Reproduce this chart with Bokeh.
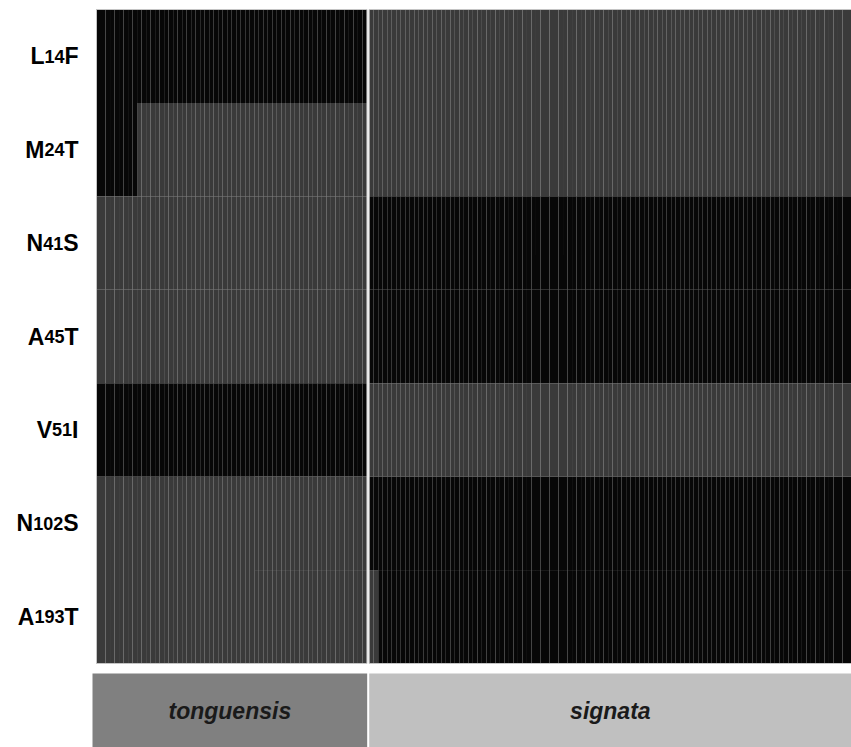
from bokeh.plotting import figure
from bokeh.models import Range1d, ColumnDataSource
from bokeh.core.properties import value
from bokeh.embed import file_html
from bokeh.resources import INLINE

# ---------------- data ----------------
mut_from = ["L", "M", "N", "A", "V", "N", "A"]
mut_pos = ["14", "24", "41", "45", "51", "102", "193"]
mut_to = ["F", "T", "S", "T", "I", "S", "T"]

groups = ["tonguensis", "signata"]
group_sizes = [60, 107]

# run-length encoded states per mutation: (state, number of samples); 1 = derived (black), 0 = ancestral (grey)
tonguensis_runs = [
    [(1, 60)],
    [(1, 9), (0, 51)],
    [(0, 60)],
    [(0, 60)],
    [(1, 60)],
    [(0, 60)],
    [(0, 60)],
]
signata_runs = [
    [(0, 107)],
    [(0, 107)],
    [(1, 107)],
    [(1, 107)],
    [(0, 107)],
    [(1, 107)],
    [(0, 2), (1, 105)],
]

state_colors = {1: "#070707", 0: "#3a3a3a"}
group_colors = ["#808080", "#c0c0c0"]

# ---------------- layout ----------------
W, H = 851, 747
left_px = 96           # heatmap left edge inside the figure
top_px = 9
gap = 0.5              # gap between groups, in column units
n_rows = len(mut_from)
total_units = group_sizes[0] + gap + group_sizes[1]
sx = (W - left_px) / total_units
rh = 654 / n_rows

x_start = -left_px / sx
x_end = x_start + W / sx
y_top = -top_px / rh
y_bottom = (H - top_px) / rh

p = figure(width=W, height=H, x_range=Range1d(x_start, x_end),
           y_range=Range1d(y_bottom, y_top), output_backend="svg",
           toolbar_location=None, x_axis_type=None, y_axis_type=None,
           min_border=0)
p.min_border_left = p.min_border_right = p.min_border_top = p.min_border_bottom = 0
p.outline_line_color = None
p.background_fill_color = "white"
p.border_fill_color = "white"

# cells
offsets = [0.0, group_sizes[0] + gap]
cells = dict(left=[], right=[], top=[], bottom=[], color=[])
for g, runs_all in enumerate([tonguensis_runs, signata_runs]):
    for r, runs in enumerate(runs_all):
        i = 0
        for state, count in runs:
            for _ in range(count):
                cells["left"].append(offsets[g] + i)
                cells["right"].append(offsets[g] + i + 1)
                cells["top"].append(r)
                cells["bottom"].append(r + 1)
                cells["color"].append(state_colors[state])
                i += 1
p.quad(left="left", right="right", top="top", bottom="bottom",
       fill_color="color", line_color="white", line_alpha=0.008, line_width=1,
       source=ColumnDataSource(cells))

# group outlines
p.quad(left=offsets, right=[offsets[g] + group_sizes[g] for g in range(2)],
       top=[0, 0], bottom=[n_rows, n_rows], fill_color=None,
       line_color="#c4c4c4", line_width=1)

# group band at the bottom
band_top = (673 - top_px) / rh
band_left = [x_start + 92 / sx, offsets[1]]
band_right = [group_sizes[0] + gap * 0.1, x_end]
p.quad(left=band_left, right=band_right, top=[band_top] * 2,
       bottom=[y_bottom] * 2, fill_color=group_colors, line_color=None)
p.text(x=[(band_left[g] + band_right[g]) / 2 for g in range(2)],
       y=[(band_top + y_bottom) / 2] * 2, text=groups,
       text_align="center", text_baseline="middle",
       text_font=value("Liberation Sans"), text_font_style="bold italic",
       text_font_size="23px", text_color="#1a1a1a")

# row labels (letter + smaller position number + letter)
adv = {"A": 722, "F": 611, "I": 278, "L": 611, "M": 833, "N": 722, "S": 667,
       "T": 611, "V": 667}
fs_big, fs_small = 23, 18
right_edge = -18
ys = [r + 0.5 for r in range(n_rows)]
off_to, off_pos, off_from = [], [], []
for r in range(n_rows):
    w_to = adv[mut_to[r]] / 1000 * fs_big
    w_pos = 556 / 1000 * fs_small * len(mut_pos[r])
    off_to.append(right_edge)
    off_pos.append(right_edge - w_to)
    off_from.append(right_edge - w_to - w_pos)
common = dict(text_align="right", text_baseline="alphabetic",
              text_font=value("Liberation Sans"), text_font_style="bold",
              text_color="#000000", y_offset=0)
p.text(x=[0] * n_rows, y=ys, text=mut_to, x_offset=off_to,
       text_font_size=f"{fs_big}px", **common)
p.text(x=[0] * n_rows, y=ys, text=mut_pos, x_offset=off_pos,
       text_font_size=f"{fs_small}px", **common)
p.text(x=[0] * n_rows, y=ys, text=mut_from, x_offset=off_from,
       text_font_size=f"{fs_big}px", **common)

open("out.html", "w").write(file_html(p, INLINE))
